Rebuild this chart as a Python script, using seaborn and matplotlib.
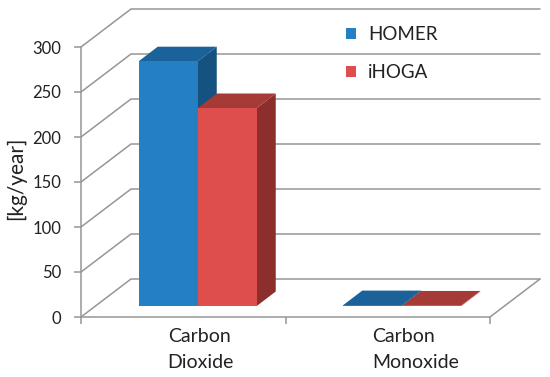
import pandas as pd
import matplotlib
matplotlib.use("Agg")
import matplotlib.pyplot as plt
from matplotlib.patches import Polygon
import seaborn as sns

categories = ["Carbon\nDioxide", "Carbon\nMonoxide"]
homer_values = [272, 1.0]
ihoga_values = [220, 0.6]
series_names = ["HOMER", "iHOGA"]
y_ticks = [0, 50, 100, 150, 200, 250, 300]

W, H = 550, 377
GRID = "#969696"
INK = "#222222"
FRONT = {"HOMER": "#2580c3", "iHOGA": "#dd4e4c"}
TOP = {"HOMER": "#1a6299", "iHOGA": "#a63a36"}
SIDE = {"HOMER": "#15527f", "iHOGA": "#8c2e2b"}

sns.set_theme(style="white")
plt.rcParams["font.family"] = ["Lato", "DejaVu Sans"]

df = pd.DataFrame({
    "category": categories * 2,
    "value": homer_values + ihoga_values,
    "series": [series_names[0]] * 2 + [series_names[1]] * 2,
})

fig = plt.figure(figsize=(W / 100, H / 100), dpi=100, facecolor="white")

# --- frame axes: front edge of the floor + the y axis
ax = fig.add_axes([81 / W, (H - 317) / H, 409 / W, 270 / H])
ax.set_xlim(0, 1)
ax.set_ylim(0, 300)
ax.patch.set_alpha(0)
for s in ["top", "right"]:
    ax.spines[s].set_visible(False)
for s in ["left", "bottom"]:
    ax.spines[s].set_color(GRID)
    ax.spines[s].set_linewidth(1.1)

ax.set_yticks(y_ticks)
ax.tick_params(axis="y", length=5, width=1.1, color=GRID, pad=9, labelsize=12,
               labelcolor=INK, left=True)
ax.set_ylabel("[kg/year]", fontsize=15, color=INK, labelpad=5, y=0.515)

ax.set_xticks([0, 0.5, 1])
ax.set_xticklabels([])
ax.tick_params(axis="x", which="major", length=5, width=1.1, color=GRID, bottom=True)
ax.set_xticks([0.293, 0.819], minor=True)
ax.set_xticklabels(categories, minor=True, fontsize=14, color=INK,
                   linespacing=1.65, multialignment="left")
ax.tick_params(axis="x", which="minor", length=0, pad=8)

# wall depth, in the units of the frame axes
wall_dx, wall_dy = 50 / 409, 38 * 300 / 270
for t in y_ticks:
    ax.plot([0, wall_dx, 1 + wall_dx], [t, t + wall_dy, t + wall_dy],
            color=GRID, lw=1.1, clip_on=False, zorder=1)
ax.plot([1, 1 + wall_dx], [0, wall_dy], color=GRID, lw=1.1, clip_on=False, zorder=1)

# --- bar axes: same scale, sits further back on the floor
bx = fig.add_axes([95.5 / W, (H - 306) / H, 409 / W, 270 / H])
sns.barplot(data=df, x="category", y="value", hue="series", hue_order=series_names,
            palette=FRONT, width=0.577, gap=0, saturation=1, ax=bx, linewidth=0)
bx.set_xlim(-0.5, 1.5)
bx.set_ylim(0, 300)
bx.axis("off")

# extrude every bar from what seaborn drew, later series stack over earlier ones
bar_dx, bar_dy = 0.5 * 19 / 102.25, 14.5 * 300 / 270
for i, (name, cont) in enumerate(zip(series_names, bx.containers)):
    z = 2 + i
    for p in cont:
        x0, w, h = p.get_x(), p.get_width(), p.get_height()
        top = Polygon([(x0, h), (x0 + bar_dx, h + bar_dy),
                       (x0 + w + bar_dx, h + bar_dy), (x0 + w, h)],
                      fc=TOP[name], ec="none", clip_on=False, zorder=z)
        side = Polygon([(x0 + w, 0), (x0 + w + bar_dx, bar_dy),
                        (x0 + w + bar_dx, h + bar_dy), (x0 + w, h)],
                       fc=SIDE[name], ec="none", clip_on=False, zorder=z)
        bx.add_patch(side)
        bx.add_patch(top)
        p.set_zorder(z + 0.5)
        p.set_clip_on(False)

# legend
leg = bx.legend(loc="upper left", bbox_to_anchor=(346 / W, (H - 26) / H),
                bbox_transform=fig.transFigure, frameon=False, fontsize=13.5,
                handlelength=0.55, handleheight=0.55, handletextpad=0.64,
                labelspacing=1.12, borderpad=0, borderaxespad=0, title=None)
for txt in leg.get_texts():
    txt.set_color(INK)

fig.savefig("out.png", dpi=100)
